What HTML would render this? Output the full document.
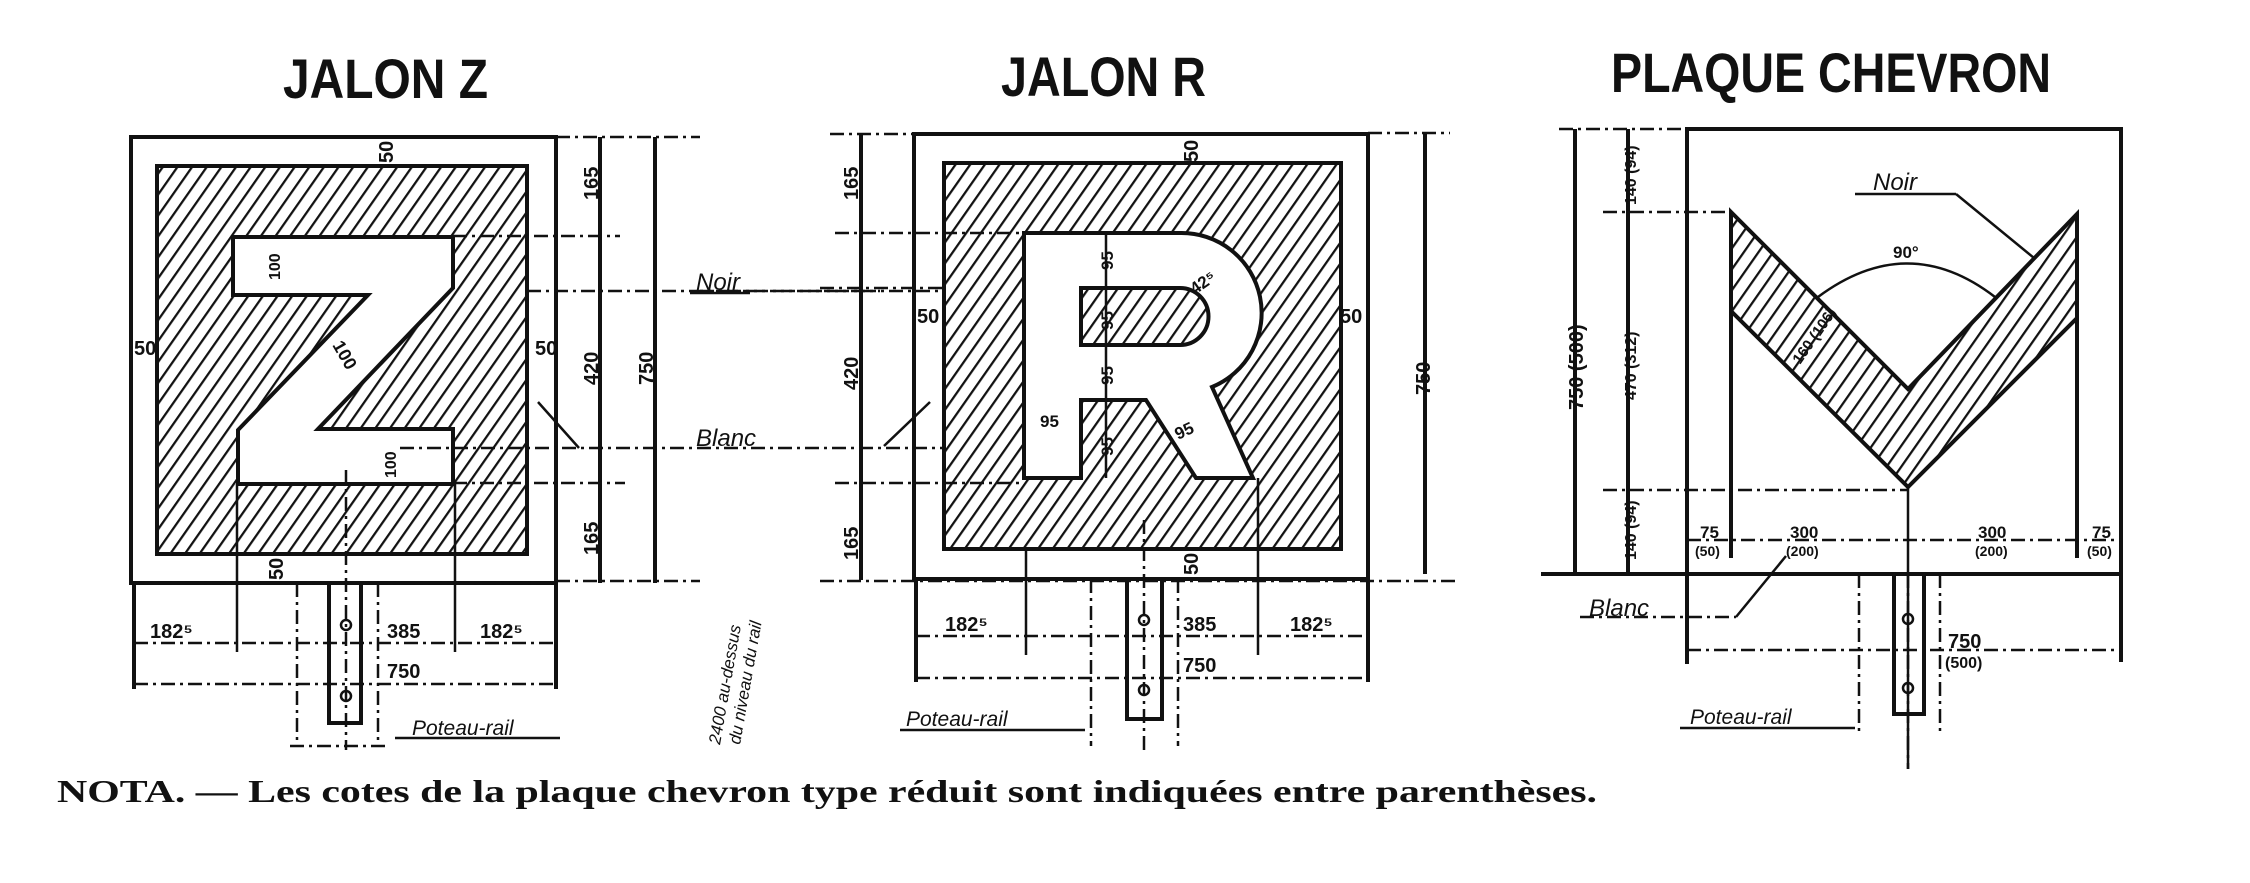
<!DOCTYPE html>
<html><head><meta charset="utf-8"><style>
html,body{margin:0;padding:0;background:#fff;}
svg{display:block;}
text{font-family:"Liberation Sans",sans-serif;fill:#111;}
.t{font-weight:bold;font-size:56px;}
.d{font-size:20px;font-weight:bold;}
.i{font-style:italic;font-size:24px;}
.s{stroke:#111;stroke-width:4;fill:none;}
.m{stroke:#111;stroke-width:2.5;fill:none;}
.dd{stroke:#111;stroke-width:2.5;fill:none;stroke-dasharray:14 5 3 5;}
</style></head><body>
<svg width="2250" height="883" viewBox="0 0 2250 883" xmlns="http://www.w3.org/2000/svg">
<defs>
<pattern id="h" patternUnits="userSpaceOnUse" width="12" height="12" patternTransform="rotate(35)">
<rect width="12" height="12" fill="#fff"/><line x1="0" y1="0" x2="0" y2="12" stroke="#111" stroke-width="4.5"/>
</pattern>
</defs>
<!-- Titles -->
<text class="t" x="283" y="98" textLength="205" lengthAdjust="spacingAndGlyphs">JALON Z</text>
<text class="t" x="1001" y="96" textLength="205" lengthAdjust="spacingAndGlyphs">JALON R</text>
<text class="t" x="1611" y="92" textLength="440" lengthAdjust="spacingAndGlyphs">PLAQUE CHEVRON</text>

<!-- ===== JALON Z ===== -->
<rect class="s" x="131" y="137" width="425" height="446"/>
<path d="M157,166 H527 V554 H157 Z M233,237 H453 V288 L318,429 H453 V484 H238 V430 L368,295 H233 Z" fill="url(#h)" fill-rule="evenodd" stroke="#111" stroke-width="4"/>
<!-- dims right -->
<line class="s" x1="600" y1="137" x2="600" y2="583"/>
<line class="s" x1="655" y1="137" x2="655" y2="583"/>
<g class="dd">
<line x1="556" y1="137" x2="700" y2="137"/>
<line x1="453" y1="236" x2="620" y2="236"/>
<line x1="527" y1="291" x2="880" y2="291"/>
<line x1="700" y1="291" x2="940" y2="291"/>
<line x1="400" y1="448" x2="1024" y2="448"/>
<line x1="453" y1="483" x2="625" y2="483"/>
<line x1="556" y1="581" x2="700" y2="581"/>
<line x1="131" y1="583" x2="556" y2="583"/>
</g>
<line class="m" x1="538" y1="402" x2="579" y2="448"/>
<text class="d" transform="translate(598,200) rotate(-90)">165</text>
<text class="d" transform="translate(598,385) rotate(-90)">420</text>
<text class="d" transform="translate(598,555) rotate(-90)">165</text>
<text class="d" transform="translate(653,385) rotate(-90)">750</text>
<text class="i" x="696" y="290">Noir</text>
<line class="m" x1="690" y1="293" x2="750" y2="293"/>
<text class="i" x="696" y="446">Blanc</text>
<!-- 50 labels Z -->
<text class="d" transform="translate(393,163) rotate(-90)">50</text>
<text class="d" transform="translate(283,580) rotate(-90)">50</text>
<text class="d" x="134" y="355">50</text>
<text class="d" x="535" y="355">50</text>
<text class="d" transform="translate(280,280) rotate(-90)" style="font-size:16px">100</text>
<text class="d" transform="translate(332,345) rotate(60)" style="font-size:18px">100</text>
<text class="d" transform="translate(396,478) rotate(-90)" style="font-size:16px">100</text>
<!-- post Z -->
<rect class="s" x="329" y="583" width="32" height="140" fill="#fff"/>
<line class="dd" x1="346" y1="470" x2="346" y2="750"/>
<circle cx="346" cy="625" r="5" class="m" fill="#fff"/>
<circle cx="346" cy="696" r="5" class="m" fill="#fff"/>
<line class="dd" x1="297" y1="583" x2="297" y2="746"/>
<line class="dd" x1="378" y1="583" x2="378" y2="746"/>
<line class="dd" x1="290" y1="746" x2="385" y2="746"/>
<!-- bottom dims Z -->
<line class="s" x1="134" y1="583" x2="134" y2="689"/>
<line class="s" x1="556" y1="583" x2="556" y2="689"/>
<line class="m" x1="237" y1="484" x2="237" y2="652"/>
<line class="m" x1="455" y1="484" x2="455" y2="652"/>
<line class="dd" x1="134" y1="643" x2="556" y2="643"/>
<line class="dd" x1="134" y1="684" x2="556" y2="684"/>
<text class="d" x="150" y="638">182⁵</text>
<text class="d" x="387" y="638">385</text>
<text class="d" x="480" y="638">182⁵</text>
<text class="d" x="387" y="678">750</text>
<text class="i" x="412" y="735" style="font-size:21px">Poteau-rail</text>
<line class="m" x1="395" y1="738" x2="560" y2="738"/>
<text transform="translate(720,745) rotate(-80)" style="font-size:17px;font-style:italic">2400 au-dessus</text>
<text transform="translate(740,745) rotate(-80)" style="font-size:17px;font-style:italic">du niveau du rail</text>

<!-- ===== JALON R ===== -->
<rect class="s" x="914" y="134" width="454" height="445"/>
<path d="M944,163 H1341 V549 H944 Z M1024,233 H1180 A80,80 0 0 1 1212,387 L1253,478 H1196 L1146,400 H1081 V478 H1024 Z M1081,288 H1180 A28.5,28.5 0 0 1 1180,345 H1081 Z" fill="url(#h)" fill-rule="evenodd" stroke="#111" stroke-width="4"/>
<line class="s" x1="861" y1="134" x2="861" y2="580"/>
<line class="s" x1="1425" y1="132" x2="1425" y2="574"/>
<line class="m" x1="1106" y1="233" x2="1106" y2="478"/>
<g class="dd">
<line x1="830" y1="134" x2="914" y2="134"/>
<line x1="1368" y1="133" x2="1450" y2="133"/>
<line x1="835" y1="233" x2="1024" y2="233"/>
<line x1="820" y1="288" x2="944" y2="288"/>
<line x1="835" y1="483" x2="1024" y2="483"/>
<line x1="820" y1="581" x2="1460" y2="581"/>
</g>
<line class="m" x1="884" y1="446" x2="930" y2="402"/>
<text class="d" transform="translate(858,200) rotate(-90)">165</text>
<text class="d" transform="translate(858,390) rotate(-90)">420</text>
<text class="d" transform="translate(858,560) rotate(-90)">165</text>
<text class="d" transform="translate(1430,395) rotate(-90)">750</text>
<text class="d" x="917" y="323">50</text>
<text class="d" x="1340" y="323">50</text>
<text class="d" transform="translate(1198,162) rotate(-90)">50</text>
<text class="d" transform="translate(1198,575) rotate(-90)">50</text>
<text class="d" transform="translate(1113,270) rotate(-90)" style="font-size:17px">95</text>
<text class="d" transform="translate(1113,330) rotate(-90)" style="font-size:17px">95</text>
<text class="d" transform="translate(1113,385) rotate(-90)" style="font-size:17px">95</text>
<text class="d" transform="translate(1113,456) rotate(-90)" style="font-size:17px">95</text>
<text class="d" x="1040" y="427" style="font-size:17px">95</text>
<text class="d" transform="translate(1178,440) rotate(-25)" style="font-size:17px">95</text>
<text class="d" transform="translate(1195,295) rotate(-35)" style="font-size:17px">42⁵</text>
<!-- post R -->
<rect class="s" x="1127" y="579" width="35" height="140" fill="#fff"/>
<line class="dd" x1="1144" y1="520" x2="1144" y2="750"/>
<circle cx="1144" cy="620" r="5" class="m" fill="#fff"/>
<circle cx="1144" cy="690" r="5" class="m" fill="#fff"/>
<line class="dd" x1="1091" y1="579" x2="1091" y2="746"/>
<line class="dd" x1="1178" y1="579" x2="1178" y2="746"/>
<line class="s" x1="916" y1="579" x2="916" y2="682"/>
<line class="s" x1="1368" y1="579" x2="1368" y2="682"/>
<line class="m" x1="1026" y1="549" x2="1026" y2="655"/>
<line class="m" x1="1258" y1="478" x2="1258" y2="655"/>
<line class="dd" x1="916" y1="636" x2="1368" y2="636"/>
<line class="dd" x1="916" y1="678" x2="1368" y2="678"/>
<text class="d" x="945" y="631">182⁵</text>
<text class="d" x="1183" y="631">385</text>
<text class="d" x="1290" y="631">182⁵</text>
<text class="d" x="1183" y="672">750</text>
<text class="i" x="906" y="726" style="font-size:21px">Poteau-rail</text>
<line class="m" x1="900" y1="730" x2="1085" y2="730"/>

<!-- ===== CHEVRON ===== -->
<path class="s" d="M1687,664 V129 H2121 V662"/>
<line class="s" x1="1541" y1="574" x2="2121" y2="574"/>
<line class="s" x1="1575" y1="129" x2="1575" y2="574"/>
<line class="s" x1="1628" y1="129" x2="1628" y2="574"/>
<line class="s" x1="1731" y1="212" x2="1731" y2="558"/>
<line class="s" x1="2077" y1="214" x2="2077" y2="558"/>
<path d="M1731,212 L1908,389 L2077,214 L2077,318 L1908,487 L1731,311 Z" fill="url(#h)" stroke="#111" stroke-width="4"/>
<g class="dd">
<line x1="1559" y1="129" x2="1687" y2="129"/>
<line x1="1603" y1="212" x2="1731" y2="212"/>
<line x1="1603" y1="490" x2="1908" y2="490"/>
<line x1="1687" y1="540" x2="2121" y2="540"/>
<line x1="1687" y1="650" x2="2121" y2="650"/>
<line x1="1580" y1="617" x2="1736" y2="617"/>
</g>
<line class="m" x1="1908" y1="487" x2="1908" y2="769"/>
<path class="m" d="M1818,297 Q1908,230 1995,297"/>
<text class="d" x="1893" y="258" style="font-size:17px">90°</text>
<text class="i" x="1873" y="190">Noir</text>
<line class="m" x1="1855" y1="194" x2="1956" y2="194"/>
<line class="m" x1="1956" y1="194" x2="2034" y2="258"/>
<line class="m" x1="1736" y1="617" x2="1786" y2="556"/>
<text class="i" x="1589" y="616">Blanc</text>
<text class="d" transform="translate(1583,410) rotate(-90)">750 (500)</text>
<text class="d" transform="translate(1636,205) rotate(-90)" style="font-size:16px">140 (94)</text>
<text class="d" transform="translate(1636,400) rotate(-90)" style="font-size:16px">470 (312)</text>
<text class="d" transform="translate(1636,560) rotate(-90)" style="font-size:16px">140 (94)</text>
<text class="d" transform="translate(1800,365) rotate(-55)" style="font-size:15px">160 (106)</text>
<text class="d" x="1700" y="538" style="font-size:17px">75</text>
<text class="d" x="1695" y="556" style="font-size:14px">(50)</text>
<text class="d" x="1790" y="538" style="font-size:17px">300</text>
<text class="d" x="1786" y="556" style="font-size:14px">(200)</text>
<text class="d" x="1978" y="538" style="font-size:17px">300</text>
<text class="d" x="1975" y="556" style="font-size:14px">(200)</text>
<text class="d" x="2092" y="538" style="font-size:17px">75</text>
<text class="d" x="2087" y="556" style="font-size:14px">(50)</text>
<rect class="s" x="1894" y="574" width="30" height="140" fill="#fff"/>
<line class="dd" x1="1908" y1="574" x2="1908" y2="769"/>
<circle cx="1908" cy="619" r="5" class="m" fill="#fff"/>
<circle cx="1908" cy="688" r="5" class="m" fill="#fff"/>
<line class="dd" x1="1859" y1="574" x2="1859" y2="735"/>
<line class="dd" x1="1940" y1="574" x2="1940" y2="735"/>
<text class="d" x="1948" y="648">750</text>
<text class="d" x="1945" y="668" style="font-size:16px">(500)</text>
<text class="i" x="1690" y="724" style="font-size:21px">Poteau-rail</text>
<line class="m" x1="1680" y1="728" x2="1855" y2="728"/>

<!-- Nota -->
<text x="57" y="802" style="font-family:'Liberation Serif',serif;font-weight:bold;font-size:32px" textLength="1540" lengthAdjust="spacingAndGlyphs">NOTA. — Les cotes de la plaque chevron type réduit sont indiquées entre parenthèses.</text>
</svg>
</body></html>
